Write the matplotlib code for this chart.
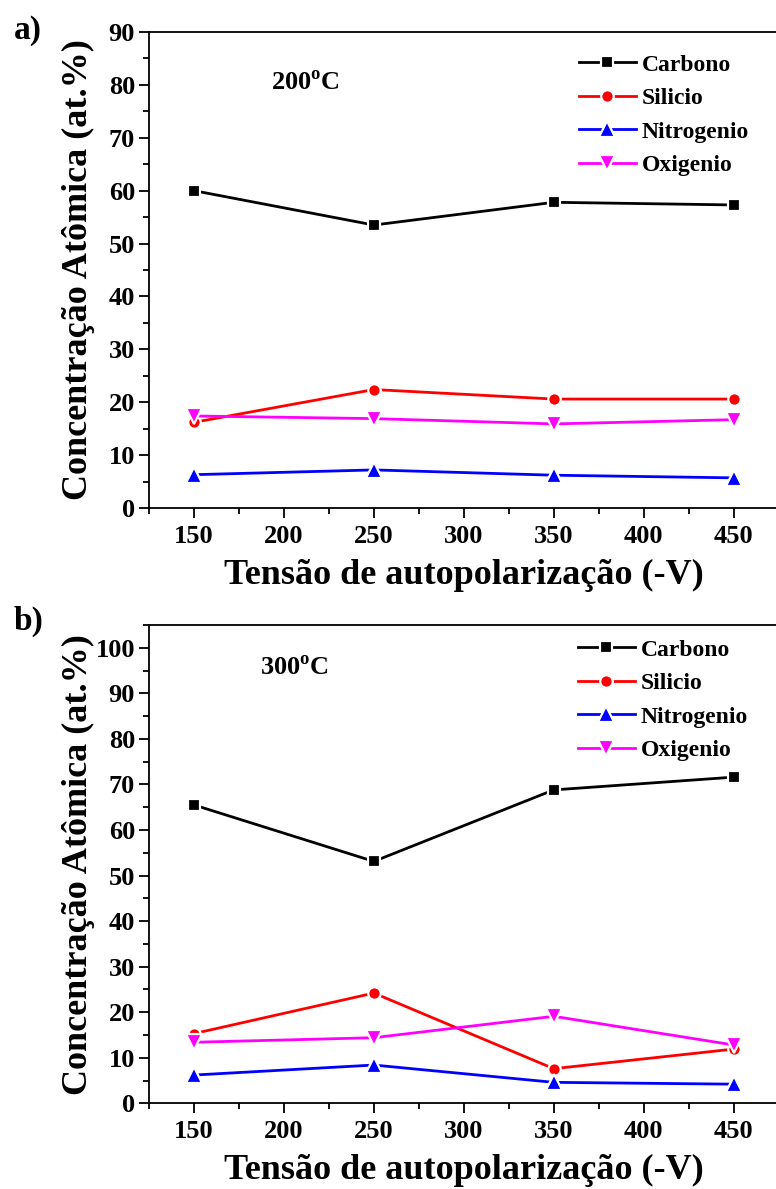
import matplotlib
matplotlib.use("Agg")
import matplotlib.pyplot as plt
from matplotlib.ticker import MultipleLocator

plt.rcParams["font.family"] = ["Liberation Serif", "DejaVu Serif"]
plt.rcParams["font.weight"] = "bold"
plt.rcParams["mathtext.fontset"] = "custom"
plt.rcParams["mathtext.rm"] = "Liberation Serif:bold"
plt.rcParams["mathtext.bf"] = "Liberation Serif:bold"

# ── dados ──
tensao = [150, 250, 350, 450]

# 200 °C
carbono_200 = [60.0, 53.5, 57.8, 57.3]
silicio_200 = [16.2, 22.4, 20.6, 20.6]
nitrogenio_200 = [6.3, 7.2, 6.2, 5.7]
oxigenio_200 = [17.4, 16.9, 15.9, 16.7]

# 300 °C
carbono_300 = [65.5, 53.1, 68.8, 71.6]
silicio_300 = [15.3, 24.2, 7.6, 11.9]
nitrogenio_300 = [6.2, 8.4, 4.6, 4.2]
oxigenio_300 = [13.4, 14.4, 19.1, 12.8]

nomes = ["Carbono", "Silicio", "Nitrogenio", "Oxigenio"]
cores = ["black", "#FF0000", "#0000FF", "#FF00FF"]
marcadores = ["s", "o", "^", "v"]
tamanhos = [8.5, 9, 11.5, 11.5]

W, H = 776, 1189
fig = plt.figure(figsize=(W / 100, H / 100), dpi=100)


def px(x, y):
    return x / W, 1 - y / H


def painel(top, bottom, series, ymax, temp, temp_xy, letra, letra_xy, leg_xy):
    left, right = 149, 778.6
    ax = fig.add_axes([left / W, 1 - bottom / H, (right - left) / W, (bottom - top) / H])
    for vals, nome, c, m, ms in zip(series, nomes, cores, marcadores, tamanhos):
        ax.plot(tensao, vals, color=c, lw=2, marker=m, ms=ms,
                mec="white", mew=1.6, mfc=c, label=nome)
    ax.set_xlim(125, 475)
    ax.set_ylim(0, ymax)
    ax.xaxis.set_major_locator(MultipleLocator(50))
    ax.xaxis.set_minor_locator(MultipleLocator(25))
    ax.yaxis.set_major_locator(MultipleLocator(10))
    ax.yaxis.set_minor_locator(MultipleLocator(5))
    ax.tick_params(which="major", direction="out", length=7, width=1.3,
                   labelsize=19, pad=5)
    ax.tick_params(which="minor", direction="out", length=4, width=1.3)
    ax.tick_params(axis="y", pad=3)
    for s in ax.spines.values():
        s.set_linewidth(1.3)
    ax.spines["right"].set_visible(False)

    lx, ly = leg_xy
    leg = ax.legend(loc="upper left",
                    bbox_to_anchor=((lx - left) / (right - left), (bottom - ly) / (bottom - top)),
                    frameon=False, fontsize=17, handlelength=2.4, handletextpad=0.25,
                    labelspacing=0.51, borderpad=0, borderaxespad=0)
    for t in leg.get_texts():
        t.set_fontweight("bold")

    ax.text(*px(*temp_xy), temp, transform=fig.transFigure, fontsize=19,
            ha="center", va="center")
    fig.text(*px(*letra_xy), letra, fontsize=24, ha="center", va="center")
    fig.text(*px(78, (top + bottom) / 2), "Concentração Atômica (at.%)",
             rotation=90, fontsize=26, ha="center", va="center")
    fig.text(*px((left + right) / 2, bottom + 67), "Tensão de autopolarização (-V)",
             fontsize=26, ha="center", va="center")
    return ax


painel(32, 508, [carbono_200, silicio_200, nitrogenio_200, oxigenio_200], 90,
       r"200$^{\mathrm{o}}$C", (305, 83), "a)", (28, 31), (579, 54))
painel(625, 1103.3, [carbono_300, silicio_300, nitrogenio_300, oxigenio_300], 105,
       r"300$^{\mathrm{o}}$C", (294, 668), "b)", (29, 621), (578, 639))

fig.savefig("out.png", dpi=100)
